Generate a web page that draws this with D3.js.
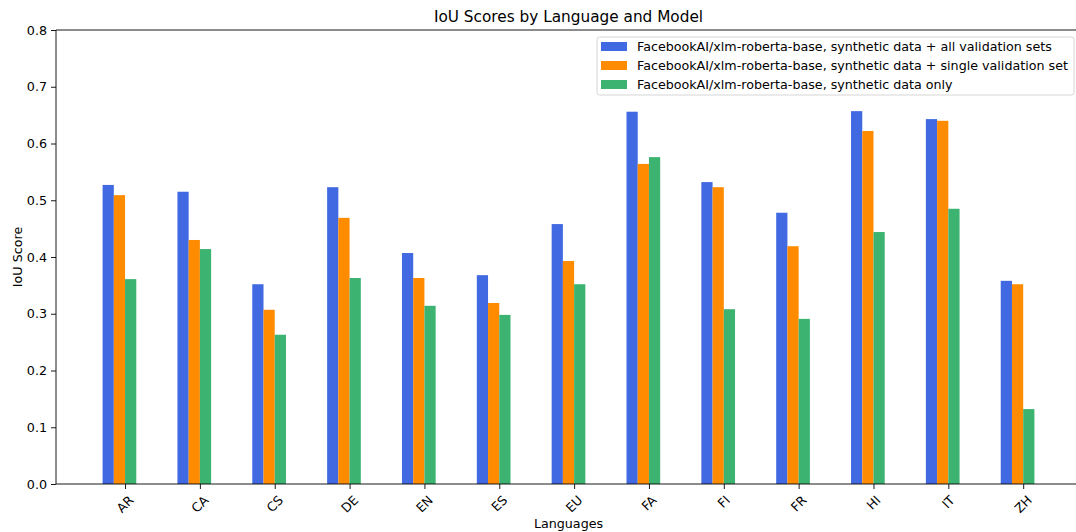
<!DOCTYPE html>
<html>
<head>
<meta charset="utf-8">
<script src="https://cdn.jsdelivr.net/npm/d3@7"></script>
<style>
  body { margin: 0; background: #fff; }
  svg { font-family: "DejaVu Sans", sans-serif; }
</style>
</head>
<body>
<script>
var languages = ["AR", "CA", "CS", "DE", "EN", "ES", "EU", "FA", "FI", "FR", "HI", "IT", "ZH"];
var allValidation = [0.527, 0.515, 0.352, 0.523, 0.407, 0.368, 0.458, 0.656, 0.532, 0.478, 0.657, 0.643, 0.358];
var singleValidation = [0.509, 0.430, 0.307, 0.469, 0.363, 0.319, 0.393, 0.564, 0.523, 0.419, 0.622, 0.640, 0.352];
var syntheticOnly = [0.361, 0.414, 0.263, 0.363, 0.314, 0.298, 0.352, 0.576, 0.308, 0.291, 0.444, 0.485, 0.132];
var seriesNames = [
  "FacebookAI/xlm-roberta-base, synthetic data + all validation sets",
  "FacebookAI/xlm-roberta-base, synthetic data + single validation set",
  "FacebookAI/xlm-roberta-base, synthetic data only"
];
var colors = ["#4169e1", "#ff8c00", "#3cb371"];
var yTicks = [0, 0.1, 0.2, 0.3, 0.4, 0.5, 0.6, 0.7, 0.8];

var w = 1076, h = 532;
var mLeft = 56, mRight = 1081, mTop = 30, mBottom = 484;
var fs = 12.7;
var barW = 0.15;

var series = [allValidation, singleValidation, syntheticOnly];

var svg = d3.select("body").append("svg")
  .attr("width", w)
  .attr("height", h);

// bars sit at [i-2w, i-w], [i-w, i], [i, i+w]; 5% margins each side
var lo = -2 * barW, hi = languages.length - 1 + barW;
var pad = (hi - lo) * 0.05;
var x = d3.scaleLinear()
  .domain([lo - pad, hi + pad])
  .range([mLeft, mRight]);

var y = d3.scaleLinear()
  .domain([0, 0.8])
  .range([mBottom, mTop]);

// bars
series.forEach(function(vals, j) {
  svg.append("g").selectAll("rect")
    .data(vals)
    .enter()
    .append("rect")
    .attr("x", function(d, i) { return x(i + (j - 2) * barW); })
    .attr("y", function(d) { return y(d); })
    .attr("width", function(d, i) { return x(i + (j - 1) * barW) - x(i + (j - 2) * barW); })
    .attr("height", function(d) { return mBottom - y(d); })
    .attr("fill", colors[j]);
});

// y axis
var yAxis = d3.axisLeft(y)
  .tickValues(yTicks)
  .tickSize(5)
  .tickPadding(4)
  .tickFormat(d3.format(".1f"));

var gy = svg.append("g")
  .attr("transform", "translate(" + mLeft + ",0)")
  .call(yAxis);
gy.select(".domain").remove();
gy.selectAll("text").attr("font-size", fs).attr("fill", "#000").attr("font-family", "DejaVu Sans");
gy.selectAll("line").attr("stroke", "#000").attr("stroke-width", 0.9);

// x axis
var xAxis = d3.axisBottom(x).tickValues(d3.range(languages.length)).tickSize(5).tickFormat("");
var gx = svg.append("g")
  .attr("transform", "translate(0," + mBottom + ")")
  .call(xAxis);
gx.select(".domain").remove();
gx.selectAll("line").attr("stroke", "#000").attr("stroke-width", 0.9);

// rotated tick labels
languages.forEach(function(l, i) {
  var t = svg.append("text")
    .attr("font-size", fs)
    .attr("text-anchor", "middle")
    .attr("dominant-baseline", "central")
    .text(l);
  var bb = t.node().getBBox();
  var rh = (bb.width + bb.height) * Math.SQRT1_2;
  var cx = x(i);
  var cy = mBottom + 5 + 3.5 + rh / 2;
  t.attr("transform", "translate(" + cx + "," + cy + ") rotate(-45)");
});

// spines
var sp = svg.append("g").attr("stroke", "#000").attr("stroke-width", 0.9).attr("fill", "none");
sp.append("line").attr("x1", mLeft).attr("x2", mLeft).attr("y1", mTop).attr("y2", mBottom);
sp.append("line").attr("x1", mLeft).attr("x2", mRight).attr("y1", mBottom).attr("y2", mBottom);
sp.append("line").attr("x1", mLeft).attr("x2", mRight).attr("y1", mTop).attr("y2", mTop);
sp.append("line").attr("x1", mRight).attr("x2", mRight).attr("y1", mTop).attr("y2", mBottom);

// titles
svg.append("text")
  .attr("x", (mLeft + mRight) / 2)
  .attr("y", 22)
  .attr("text-anchor", "middle")
  .attr("font-size", 15.3)
  .text("IoU Scores by Language and Model");

svg.append("text")
  .attr("x", (mLeft + mRight) / 2)
  .attr("y", 528)
  .attr("text-anchor", "middle")
  .attr("font-size", fs)
  .text("Languages");

svg.append("text")
  .attr("transform", "translate(22," + ((mTop + mBottom) / 2) + ") rotate(-90)")
  .attr("text-anchor", "middle")
  .attr("font-size", fs)
  .text("IoU Score");

// legend
var lg = svg.append("g");
lg.append("rect")
  .attr("x", 597)
  .attr("y", 37)
  .attr("width", 477)
  .attr("height", 58)
  .attr("rx", 2.5)
  .attr("fill", "#fff")
  .attr("fill-opacity", 0.8)
  .attr("stroke", "#d5d5d5");

seriesNames.forEach(function(name, j) {
  var cy = 46.5 + j * 19;
  lg.append("rect")
    .attr("x", 601)
    .attr("y", cy - 4.5)
    .attr("width", 26)
    .attr("height", 9)
    .attr("fill", colors[j]);
  lg.append("text")
    .attr("x", 637)
    .attr("y", cy)
    .attr("dominant-baseline", "central")
    .attr("font-size", fs)
    .text(name);
});
</script>
</body>
</html>
